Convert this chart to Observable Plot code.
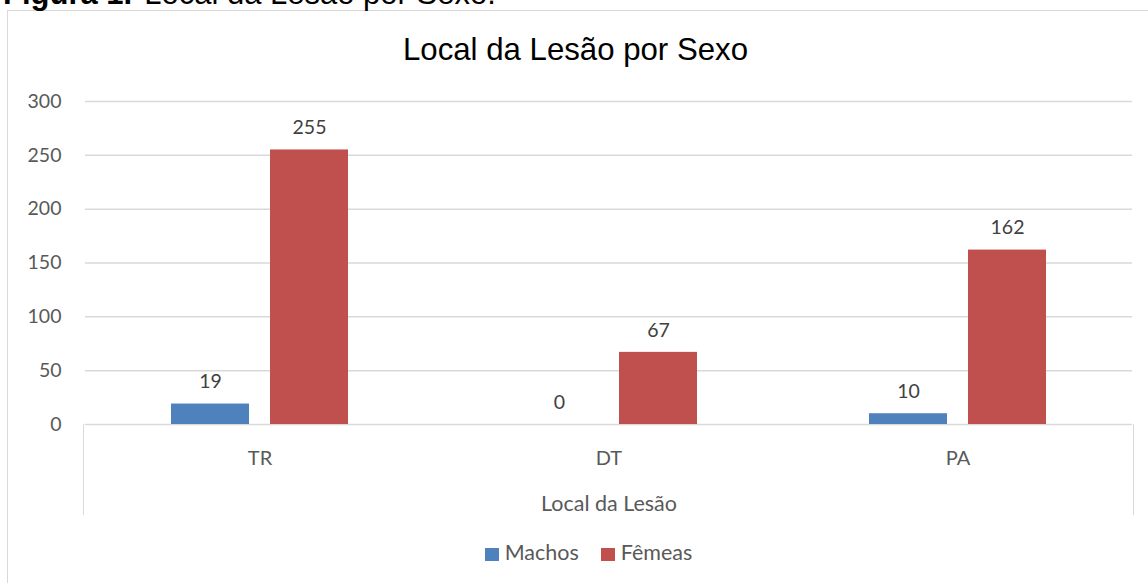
<!DOCTYPE html>
<html>
<head>
<meta charset="utf-8">
<script src="https://cdn.jsdelivr.net/npm/d3@7"></script>
<script src="https://cdn.jsdelivr.net/npm/@observablehq/plot@0.6"></script>
<style>
  html, body { margin: 0; padding: 0; background: #fff; }
  #page { position: relative; width: 1148px; height: 583px; overflow: hidden; background: #fff; }
  #caption { position: absolute; left: 3px; top: -22px; font-family: "Liberation Sans", Arial, sans-serif; font-size: 31px; line-height: 31px; color: #000; white-space: nowrap; }
  #caption b { margin-right: 12px; }
  #frame { position: absolute; left: 7px; top: 10px; width: 1200px; height: 600px; border: 1.5px solid #d9d9d9; }
  #title { position: absolute; left: 0; width: 1151px; top: 33px; text-align: center; font-family: "Liberation Sans", Arial, sans-serif; font-size: 31.2px; line-height: 34px; color: #000; white-space: nowrap; }
  #chart { position: absolute; left: 0; top: 80px; }
  #catbox { position: absolute; left: 83.25px; top: 424px; width: 1050.5px; height: 91px; box-sizing: border-box; border-left: 1.5px solid #d9d9d9; border-right: 1.5px solid #d9d9d9; }
  #legend { position: absolute; left: 0; top: 539px; width: 1177px; text-align: center; font-family: Lato, sans-serif; font-size: 21.5px; color: #595959; white-space: nowrap; }
  #legend span.item { display: inline-block; margin: 0 11px; }
  #legend span.sw { display: inline-block; width: 14px; height: 13px; margin-right: 6px; vertical-align: -1px; }
</style>
</head>
<body>
<div id="page">
  <div id="frame"></div>
  <div id="caption"><b>Figura 1.</b>Local da Lesão por Sexo.</div>
  <div id="title">Local da Lesão por Sexo</div>
  <div id="chart"></div>
  <div id="catbox"></div>
  <div id="legend"></div>
</div>
<script>
const categorias = ["TR", "DT", "PA"];
const series = ["Machos", "Fêmeas"];
const machos = [19, 0, 10];
const femeas = [255, 67, 162];
const yTicks = [0, 50, 100, 150, 200, 250, 300];
const cores = ["#4F81BD", "#C0504D"];
const eixoTitulo = "Local da Lesão";

const data = [];
categorias.forEach((c, i) => {
  data.push({loc: c, sexo: series[0], valor: machos[i]});
  data.push({loc: c, sexo: series[1], valor: femeas[i]});
});

const plot = Plot.plot({
  width: 1148,
  height: 440,
  marginTop: 21,
  marginBottom: 96,
  marginLeft: 84,
  marginRight: 15,
  style: {fontFamily: "Lato, sans-serif", background: "transparent"},
  fx: {domain: categorias, padding: 0},
  x: {domain: series, axis: null, paddingInner: 0.21, paddingOuter: 0.853},
  y: {domain: [0, 300]},
  color: {domain: series, range: cores},
  marks: [
    Plot.gridY(yTicks, {stroke: "#d9d9d9", strokeOpacity: 1, strokeWidth: 1.5}),
    Plot.axisY(yTicks, {tickSize: 0, tickPadding: 24, fontSize: 19.5, fill: "#595959", label: null}),
    Plot.barY(data, {fx: "loc", x: "sexo", y: "valor", fill: "sexo"}),
    Plot.text(data, {fx: "loc", x: "sexo", y: "valor", text: d => String(d.valor), dy: -22, fontSize: 19.5, fill: "#404040"}),
    Plot.axisFx({anchor: "bottom", tickSize: 0, tickPadding: 26, fontSize: 20, fill: "#595959", label: null}),
    Plot.axisFx({anchor: "bottom", ticks: [], tickSize: 0, fontSize: 21.5, fill: "#595959", label: eixoTitulo, labelAnchor: "center", labelOffset: 86})
  ]
});
document.getElementById("chart").appendChild(plot);

const legend = document.getElementById("legend");
series.forEach((s, i) => {
  const item = document.createElement("span");
  item.className = "item";
  const sw = document.createElement("span");
  sw.className = "sw";
  sw.style.background = cores[i];
  item.appendChild(sw);
  item.appendChild(document.createTextNode(s));
  legend.appendChild(item);
});
</script>
</body>
</html>
